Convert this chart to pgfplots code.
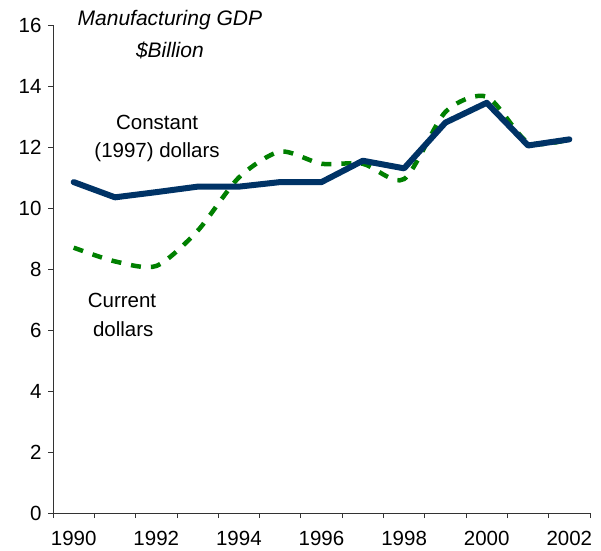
\documentclass[border=0pt]{standalone}
\usepackage{pgfplots}
\pgfplotsset{compat=1.18}
\usepackage{fontspec}
\setmainfont{Liberation Sans}
\definecolor{navy}{RGB}{0,51,102}
\definecolor{dgreen}{RGB}{0,128,0}
\begin{document}
\begin{tikzpicture}[x=1pt,y=1pt]
\path[use as bounding box] (0,0) rectangle (601,550);
\begin{axis}[
  at={(53pt,37pt)}, anchor=south west,
  scale only axis, width=537pt, height=488pt,
  xmin=1989.5, xmax=2002.5, ymin=0, ymax=16,
  axis lines=left, axis line style={-, line width=0.8pt, black!80},
  xtick={1989.5,1990.5,...,2002.5}, xticklabels={},
  extra x ticks={1990,1992,...,2002},
  extra x tick labels={1990,1992,1994,1996,1998,2000,2002},
  extra x tick style={major tick length=0pt, tick label style={yshift=-15pt}},
  ytick={0,2,...,16},
  tick align=outside, major tick length=5pt,
  tick style={line width=0.8pt, black!80},
  tick label style={font=\fontsize{20.5}{24}\selectfont},
  yticklabel style={xshift=-3pt},
  /pgf/number format/assume math mode=true,
  xticklabel style={/pgf/number format/1000 sep={}},
  extra x tick style={/pgf/number format/1000 sep={}},
  clip=false,
]
\addplot[dgreen, line width=4.5pt, dash pattern=on 10pt off 10pt, smooth, tension=0.45] coordinates {
(1990,8.7) (1991,8.25) (1992,8.1) (1993,9.25) (1994,11.0) (1995,11.85) (1996,11.45) (1997,11.45) (1998,10.95) (1999,13.15) (2000,13.65) (2001,12.15) (2002,12.25)
};
\addplot[navy, line width=6pt, line join=round, line cap=round] coordinates {
(1990,10.85) (1991,10.35) (1992,10.52) (1993,10.7) (1994,10.7) (1995,10.85) (1996,10.85) (1997,11.55) (1998,11.3) (1999,12.8) (2000,13.45) (2001,12.05) (2002,12.25)
};
\node[font=\fontsize{21}{24}\selectfont\itshape] at (axis cs:1992.33,16.15) {Manufacturing GDP};
\node[font=\fontsize{21}{24}\selectfont\itshape] at (axis cs:1992.33,15.18) {\$Billion};
\node[font=\fontsize{20.5}{24}\selectfont] at (axis cs:1992.02,12.82) {Constant};
\node[font=\fontsize{20.5}{24}\selectfont] at (axis cs:1992.02,11.84) {(1997) dollars};
\node[font=\fontsize{20.5}{24}\selectfont] at (axis cs:1991.17,6.98) {Current};
\node[font=\fontsize{20.5}{24}\selectfont] at (axis cs:1991.2,6.02) {dollars};
\end{axis}
\end{tikzpicture}
\end{document}
